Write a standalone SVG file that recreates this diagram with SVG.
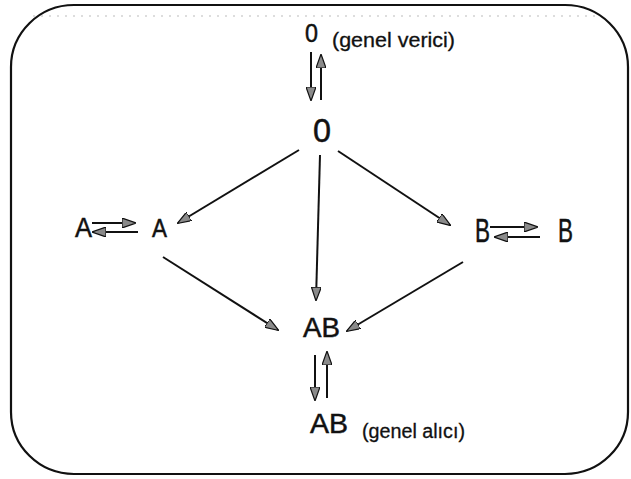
<svg xmlns="http://www.w3.org/2000/svg" width="631" height="479" viewBox="0 0 631 479">
<defs>
<marker id="ah" viewBox="0 0 14 10" refX="13" refY="5" markerWidth="14" markerHeight="10" markerUnits="userSpaceOnUse" orient="auto">
<path d="M0,0 L14,5 L0,10 Z" fill="#8a8a8a" stroke="#111" stroke-width="1.2" stroke-linejoin="round"/>
</marker>
</defs>
<style>
.t{font-family:"Liberation Sans","DejaVu Sans",sans-serif;fill:#111;stroke:#111;stroke-width:0.5}
.big{font-size:28px}
.sm{font-size:20px;stroke-width:0.3}
.c{stroke:#111;stroke-width:2;fill:none;marker-end:url(#ah)}
</style>
<rect x="11" y="5" width="617" height="469" rx="63" ry="62" fill="#fff" stroke="#111" stroke-width="2.2"/>
<line x1="33" y1="16" x2="600" y2="16" stroke="#bbb" stroke-width="1" stroke-dasharray="2 6"/>

<g id="o-top"><text class="t big" x="305" y="42" textLength="13" lengthAdjust="spacingAndGlyphs" style="font-size:26px">0</text>
<text class="t sm" x="332" y="47" textLength="123" lengthAdjust="spacingAndGlyphs">(genel verici)</text></g>
<g id="o-mid"><text class="t" x="313" y="142" textLength="18" lengthAdjust="spacingAndGlyphs" style="font-size:33px">0</text></g>
<g id="a-left"><text class="t big" x="75" y="237" textLength="17" lengthAdjust="spacingAndGlyphs">A</text></g>
<g id="a-right"><text class="t" x="152" y="237" textLength="15" lengthAdjust="spacingAndGlyphs" style="font-size:25px">A</text></g>
<g id="b-left"><text class="t" x="475" y="242" textLength="15" lengthAdjust="spacingAndGlyphs" style="font-size:33px">B</text></g>
<g id="b-right"><text class="t" x="558" y="242" textLength="15" lengthAdjust="spacingAndGlyphs" style="font-size:33px">B</text></g>
<g id="ab-mid"><text class="t big" x="303" y="337" textLength="37" lengthAdjust="spacingAndGlyphs">AB</text></g>
<g id="ab-bottom"><text class="t big" x="310" y="433" textLength="38" lengthAdjust="spacingAndGlyphs">AB</text>
<text class="t sm" x="362" y="438" textLength="103" lengthAdjust="spacingAndGlyphs">(genel alıcı)</text></g>

<g id="connectors">
<line class="c" x1="311" y1="52" x2="311" y2="100"/>
<line class="c" x1="321" y1="100" x2="321" y2="55"/>
<line class="c" x1="299" y1="150" x2="178" y2="223"/>
<line class="c" x1="320" y1="155" x2="316" y2="300"/>
<line class="c" x1="338" y1="151" x2="450" y2="225"/>
<line class="c" x1="92" y1="223" x2="135" y2="223"/>
<line class="c" x1="138" y1="232" x2="93" y2="232"/>
<line class="c" x1="490" y1="227" x2="537" y2="227"/>
<line class="c" x1="540" y1="237" x2="495" y2="237"/>
<line class="c" x1="163" y1="257" x2="278" y2="330"/>
<line class="c" x1="463" y1="262" x2="347" y2="331"/>
<line class="c" x1="315" y1="355" x2="315" y2="400"/>
<line class="c" x1="327" y1="398" x2="327" y2="352"/>
</g>
</svg>
